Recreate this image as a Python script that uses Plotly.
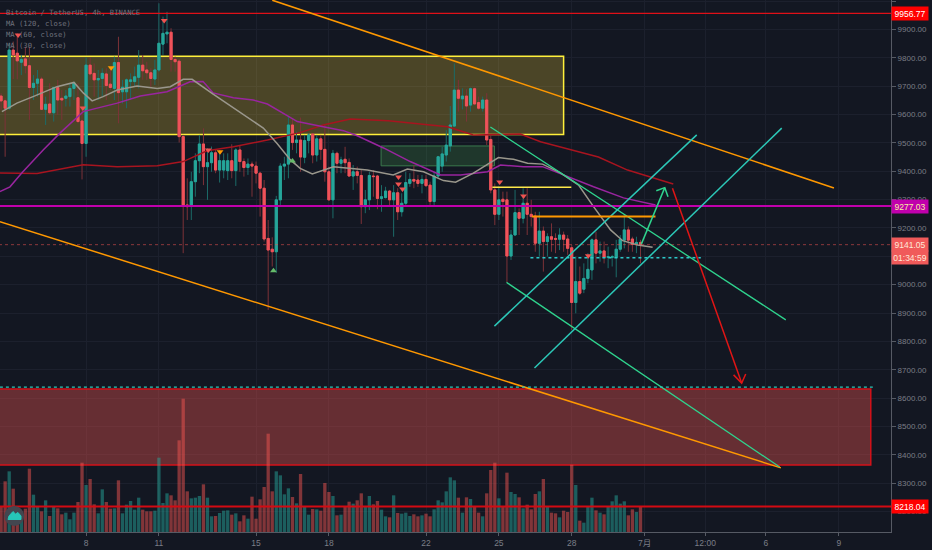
import plotly.graph_objects as go

# 4h candles, bar 21 is the 8th at 00:00
bar_open = [
    9665, 9648, 9622, 9827, 9816, 9784, 9796, 9772, 9695, 9710,
    9725, 9618, 9637, 9606, 9695, 9657, 9657, 9663, 9692, 9659,
    9577, 9498, 9774, 9745, 9722, 9727, 9743, 9707, 9692, 9783,
    9680, 9680, 9716, 9716, 9731, 9774, 9757, 9747, 9725, 9757,
    9848, 9884, 9890, 9794, 9788, 9522, 9281, 9277, 9363, 9437,
    9496, 9416, 9430, 9465, 9404, 9404, 9402, 9437, 9402, 9475,
    9434, 9413, 9425, 9418, 9393, 9340, 9163, 9125, 9116, 9299,
    9418, 9425, 9563, 9501, 9510, 9449, 9508, 9531, 9457, 9514,
    9477, 9398, 9299, 9463, 9428, 9442, 9431, 9383, 9398, 9385,
    9275, 9299, 9383, 9383, 9304, 9307, 9330, 9299, 9324, 9257,
    9287, 9357, 9371, 9369, 9357, 9371, 9351, 9293, 9383, 9418,
    9457, 9489, 9559, 9686, 9655, 9665, 9633, 9691, 9642, 9622,
    9651, 9512, 9334, 9248, 9301, 9299, 9101, 9175, 9254, 9234,
    9287, 9248, 9242, 9146, 9189, 9152, 9169, 9163, 9160, 9175,
    9161, 9130, 8937, 9011, 8984, 9022, 9052, 9158, 9111, 9119,
    9096, 9096, 9096, 9125, 9157, 9193, 9161, 9142, 9149,
]
bar_close = [
    9648, 9622, 9827, 9810, 9789, 9794, 9772, 9695, 9710, 9725,
    9618, 9636, 9606, 9695, 9651, 9651, 9665, 9692, 9712, 9575,
    9498, 9774, 9743, 9722, 9727, 9745, 9702, 9695, 9783, 9677,
    9696, 9722, 9722, 9733, 9774, 9754, 9747, 9727, 9757, 9851,
    9886, 9890, 9794, 9786, 9522, 9281, 9275, 9363, 9437, 9496,
    9416, 9430, 9465, 9404, 9437, 9437, 9437, 9402, 9475, 9434,
    9413, 9425, 9418, 9393, 9340, 9161, 9122, 9116, 9299, 9418,
    9425, 9563, 9501, 9510, 9450, 9508, 9528, 9457, 9514, 9477,
    9398, 9299, 9463, 9428, 9440, 9430, 9383, 9398, 9385, 9275,
    9299, 9385, 9381, 9304, 9310, 9330, 9299, 9324, 9257, 9287,
    9360, 9371, 9365, 9357, 9371, 9349, 9293, 9383, 9451, 9461,
    9492, 9563, 9686, 9657, 9665, 9630, 9691, 9637, 9622, 9651,
    9510, 9334, 9248, 9299, 9293, 9101, 9175, 9254, 9234, 9287,
    9248, 9240, 9146, 9189, 9152, 9169, 9160, 9160, 9175, 9160,
    9128, 8937, 9011, 8970, 9022, 9054, 9158, 9111, 9119, 9096,
    9099, 9099, 9125, 9160, 9193, 9157, 9142, 9149, 9141,
]
bar_high = [
    9675, 9657, 9851, 9857, 9886, 9810, 9839, 9839, 9739, 9757,
    9733, 9663, 9710, 9698, 9722, 9686, 9686, 9710, 9716, 9710,
    9628, 9801, 9801, 9780, 9757, 9763, 9763, 9757, 9804, 9874,
    9722, 9727, 9745, 9769, 9827, 9810, 9786, 9763, 9792, 9992,
    9945, 9962, 9904, 9804, 9796, 9528, 9375, 9398, 9463, 9528,
    9551, 9481, 9487, 9475, 9475, 9463, 9463, 9495, 9481, 9492,
    9445, 9445, 9434, 9434, 9398, 9369, 9228, 9167, 9313, 9428,
    9451, 9592, 9586, 9539, 9589, 9528, 9534, 9534, 9528, 9528,
    9563, 9416, 9475, 9469, 9451, 9486, 9445, 9422, 9416, 9404,
    9334, 9398, 9404, 9387, 9351, 9345, 9334, 9351, 9340, 9322,
    9398, 9393, 9422, 9387, 9387, 9387, 9363, 9398, 9454, 9486,
    9545, 9630, 9780, 9722, 9692, 9689, 9695, 9695, 9663, 9663,
    9675, 9528, 9357, 9346, 9328, 9328, 9193, 9334, 9269, 9340,
    9340, 9299, 9257, 9257, 9205, 9181, 9216, 9181, 9199, 9187,
    9175, 9140, 9099, 9064, 9075, 9111, 9163, 9187, 9152, 9152,
    9134, 9105, 9158, 9175, 9246, 9205, 9169, 9169, 9158,
]
bar_low = [
    9616, 9451, 9616, 9725, 9724, 9739, 9745, 9581, 9651, 9663,
    9616, 9563, 9598, 9575, 9598, 9581, 9628, 9628, 9651, 9569,
    9371, 9451, 9722, 9663, 9651, 9663, 9651, 9686, 9651, 9569,
    9639, 9622, 9651, 9698, 9692, 9722, 9722, 9698, 9704, 9751,
    9810, 9851, 9751, 9751, 9501, 9111, 9228, 9228, 9310, 9393,
    9351, 9299, 9398, 9393, 9360, 9375, 9369, 9375, 9348, 9398,
    9381, 9387, 9310, 9357, 9240, 9152, 8911, 9064, 9042, 9281,
    9369, 9375, 9475, 9463, 9398, 9428, 9463, 9428, 9434, 9440,
    9363, 9296, 9234, 9393, 9393, 9393, 9381, 9334, 9357, 9214,
    9252, 9263, 9310, 9266, 9257, 9304, 9275, 9169, 9228, 9240,
    9281, 9345, 9340, 9345, 9322, 9345, 9281, 9275, 9375, 9398,
    9434, 9469, 9559, 9610, 9618, 9575, 9610, 9633, 9616, 9610,
    9492, 9322, 9210, 9228, 9240, 9008, 9087, 9175, 9175, 9216,
    9175, 9205, 9116, 9099, 9046, 9099, 9116, 9111, 9122, 9116,
    9105, 8840, 8899, 8964, 8970, 9005, 9017, 9075, 9081, 9075,
    9058, 9064, 9026, 9116, 9128, 9116, 9116, 9111, 9075,
]
bar_volume = [
    75, 152, 182, 130, 55, 45, 70, 190, 112, 75,
    62, 95, 48, 75, 71, 53, 58, 38, 58, 90,
    208, 141, 159, 83, 56, 128, 90, 70, 71, 155,
    56, 82, 93, 67, 103, 67, 62, 62, 64, 223,
    87, 116, 110, 95, 275, 400, 122, 101, 103, 108,
    143, 103, 47, 48, 57, 64, 65, 52, 56, 32,
    50, 40, 106, 40, 98, 135, 295, 122, 182, 170,
    113, 131, 105, 86, 174, 75, 52, 69, 68, 64,
    147, 120, 108, 50, 52, 75, 91, 85, 95, 116,
    77, 108, 83, 93, 67, 47, 44, 110, 57, 55,
    58, 48, 53, 47, 50, 55, 47, 68, 95, 89,
    122, 164, 155, 103, 58, 104, 99, 75, 58, 47,
    116, 186, 208, 101, 77, 178, 120, 114, 104, 71,
    82, 68, 114, 122, 159, 75, 58, 56, 44, 64,
    60, 202, 141, 34, 28, 77, 103, 65, 58, 53,
    77, 92, 110, 85, 92, 50, 68, 60, 77,
]

# moving averages (bar, price)
ma30_bar = [0.2, 3.9, 7.9, 13.8, 18, 20.3, 22.5, 25.2, 28.7, 33.6, 38.6, 41.8, 45, 47.2, 52.4,
            57.4, 64.8, 68.2, 71.5, 73.9, 76.9, 82.1, 90.5, 96.9, 100.4, 104.4, 109.3, 112.3,
            116.7, 122.9, 126.6, 130.1, 133.8, 138.2, 142.7, 146.4, 150.6, 153.6, 157.3, 161]
ma30_val = [9610, 9640, 9663, 9698, 9713, 9676, 9648, 9663, 9686, 9700, 9692, 9698, 9724, 9724, 9672,
            9623, 9552, 9498, 9440, 9410, 9390, 9416, 9404, 9387, 9408, 9398, 9367, 9361,
            9393, 9448, 9442, 9428, 9425, 9394, 9351, 9275, 9193, 9155, 9140, 9132]
ma60_bar = [-0.3, 2.2, 5.1, 10.4, 14.6, 20.3, 28.7, 34.4, 41, 46.7, 49.9, 52.4, 57.4, 62.3, 65.8,
            69.7, 73.2, 79.6, 84.6, 88, 94.5, 101.1, 106.1, 108.6, 113.5, 120.2, 123.4, 129.1,
            133.8, 140, 146.4, 153.8, 161.7]
ma60_val = [9328, 9345, 9394, 9475, 9535, 9610, 9640, 9665, 9680, 9715, 9716, 9676, 9659, 9651, 9637,
            9605, 9575, 9557, 9543, 9525, 9482, 9434, 9402, 9387, 9387, 9398, 9422, 9416,
            9416, 9381, 9345, 9306, 9281]
ma120_bar = [-0.3, 8.9, 20.3, 28.7, 38.6, 45, 50.9, 57.4, 65.8, 73.9, 79.6, 86.3, 95.7, 110.3,
             116.7, 128.3, 133.3, 147.6, 154.8, 166.1]
ma120_val = [9394, 9392, 9423, 9416, 9419, 9434, 9472, 9486, 9510, 9536, 9563, 9584, 9578, 9557,
             9528, 9531, 9504, 9450, 9404, 9355]

# hand drawn lines (bar, price)
orange_upper_bar = [67, 205.8]
orange_upper_val = [10003, 9341]
orange_lower_bar = [-0.3, 192.7]
orange_lower_val = [9222, 8354]
green_a_bar = [120.9, 193.9]
green_a_val = [9556, 8876]
green_b_bar = [124.9, 192.4]
green_b_val = [9008, 8357]
cyan_a_bar = [121.9, 171.9]
cyan_a_val = [8854, 9528]
cyan_b_bar = [131.8, 192.9]
cyan_b_val = [8706, 9552]
yellow_short_bar = [121.4, 140.9]
yellow_short_val = [9343, 9343]
orange_short_bar = [131.2, 161.7]
orange_short_val = [9240, 9240]
dots_short_bar = [130.8, 172.9]
dots_short_val = [9095, 9095]
dots_long_bar = [-0.3, 215.4]
dots_long_val = [8639, 8639]
arrow_up_bar = [158.2, 164, None, 161.9, 164, 164.8]
arrow_up_val = [9143, 9342, None, 9331, 9342, 9310]
arrow_down_bar = [165.9, 183, None, 181, 183, 184]
arrow_down_val = [9340, 8653, None, 8682, 8653, 8685]

# signal markers
sell_bar = [40.3, 4.2, 20.2, 51.2, 98.2, 98.2, 99.2, 123.2, 129.1, 145.1]
sell_val = [9931, 9880, 9623, 9475, 9380, 9355, 9337, 9362, 9313, 9102]
warn_bar = [27.2, 54.1]
warn_val = [9765, 9469]
buy_bar = [72, 67.3]
buy_val = [9436, 9049]

# zones (bar, price)
yellow_zone = [-2, 139, 9529, 9805]
green_zone = [93.9, 121.9, 9419, 9489]
red_zone = [-2, 214.9, 8364, 8632]

# levels
level_top = 9956.77
level_magenta = 9277.03
level_last = 9141.05
level_bottom = 8218.04
countdown = "01:34:59"

x_tick_bars = [21, 39, 63, 81, 105, 123, 141, 159, 174, 189, 207]
x_tick_text = ["8", "11", "15", "18", "22", "25", "28", "7月", "12:00", "6", "9"]
legend_rows = ["Bitcoin / TetherUS, 4h, BINANCE", "MA (120, close)", "MA (60, close)", "MA (30, close)"]

BG = "#131722"
GRID = "#1c202d"
UP = "#26a69a"
DOWN = "#f0535a"
FONT = "Liberation Sans, Noto Sans CJK SC, sans-serif"
W, H = 932, 550
ML, MR, MB = 0, 41, 18
PW, PH = W - ML - MR, H - MB
PRICE_RANGE = [8128, 10003.6]
VOL_RANGE = [0, 1596]
bars = list(range(len(bar_open)))
vol_colors = [
    "rgba(38,166,154,0.5)" if c >= o else "rgba(239,83,80,0.5)"
    for o, c in zip(bar_open, bar_close)
]

fig = go.Figure()

# volume sits on the primary axis so the price traces draw over it
fig.add_trace(go.Bar(x=bars, y=bar_volume, marker=dict(color=vol_colors, line_width=0),
                     width=0.82, yaxis="y", hoverinfo="skip"))


def line(xs, ys, color, width=1.5, dash="solid"):
    fig.add_trace(go.Scatter(x=xs, y=ys, mode="lines", yaxis="y2", hoverinfo="skip",
                             line=dict(color=color, width=width, dash=dash)))


line(ma120_bar, ma120_val, "#a8141f", 1.5)
line(ma60_bar, ma60_val, "#99259f", 1.5)
line(ma30_bar, ma30_val, "#9a978c", 1.5)

# wicks first, then bodies with no wick
fig.add_trace(go.Candlestick(
    x=bars, open=bar_open, high=bar_high, low=bar_low, close=bar_close, yaxis="y2",
    increasing=dict(line=dict(color="#1c6b68", width=1), fillcolor="#1c6b68"),
    decreasing=dict(line=dict(color="#7d3238", width=1), fillcolor="#7d3238"),
    whiskerwidth=0, hoverinfo="skip",
))
body_top = [max(o, c) for o, c in zip(bar_open, bar_close)]
body_bot = [min(o, c) for o, c in zip(bar_open, bar_close)]
fig.add_trace(go.Candlestick(
    x=bars, open=bar_open, high=body_top, low=body_bot, close=bar_close, yaxis="y2",
    increasing=dict(line=dict(color=UP, width=1), fillcolor=UP),
    decreasing=dict(line=dict(color=DOWN, width=1), fillcolor=DOWN),
    whiskerwidth=0, hoverinfo="skip",
))

x_span = [-2, 225]
line(x_span, [level_top] * 2, "#e01018", 1.2)
line(x_span, [level_magenta] * 2, "#c000ac", 2)
line(x_span, [level_last] * 2, "rgba(239,83,80,0.55)", 1, "dot")
line(x_span, [level_bottom] * 2, "#d40a12", 2)

line(orange_upper_bar, orange_upper_val, "#ff9800", 1.5)
line(orange_lower_bar, orange_lower_val, "#ff9800", 1.5)
line(green_a_bar, green_a_val, "#2fd48e", 1.3)
line(green_b_bar, green_b_val, "#2fd48e", 1.3)
line(cyan_a_bar, cyan_a_val, "#2cc8b8", 1.5)
line(cyan_b_bar, cyan_b_val, "#2cc8b8", 1.5)
line(yellow_short_bar, yellow_short_val, "#ffe94a", 1.5)
line(orange_short_bar, orange_short_val, "#ff9800", 2)
line(dots_short_bar, dots_short_val, "#2cc8c8", 1.5, "dot")
line(dots_long_bar, dots_long_val, "#2cc8b8", 1.2, "dot")
line(arrow_up_bar, arrow_up_val, "#2fd48e", 1.5)
line(arrow_down_bar, arrow_down_val, "#e01515", 1.5)


def marks(xs, ys, symbol, color):
    fig.add_trace(go.Scatter(x=xs, y=ys, mode="markers", yaxis="y2", hoverinfo="skip",
                             marker=dict(symbol=symbol, size=6, color=color, line_width=0)))


marks(sell_bar, sell_val, "triangle-down", "#ef5350")
marks(warn_bar, warn_val, "triangle-down", "#ff9800")
marks(buy_bar, buy_val, "triangle-up", "#66bb6a")


def to_vol_axis(price):
    # layer="between" only works on the main subplot, so zones go through the volume axis
    return (price - PRICE_RANGE[0]) / (PRICE_RANGE[1] - PRICE_RANGE[0]) * VOL_RANGE[1]


def zone(box, line_color, fill, width=1.5):
    fig.add_shape(type="rect", xref="x", yref="y", x0=box[0], x1=box[1],
                  y0=to_vol_axis(box[2]), y1=to_vol_axis(box[3]),
                  line=dict(color=line_color, width=width), fillcolor=fill, layer="between")


zone(yellow_zone, "#fff03a", "rgba(255,218,59,0.24)")
zone(green_zone, "#3b7a4d", "rgba(76,175,80,0.22)", 1)
zone(red_zone, "#d3121a", "rgba(239,83,80,0.38)")

# logo badge, bottom left
fig.add_shape(type="circle", xref="paper", yref="paper", layer="above",
              x0=4.3 / PW, x1=24.3 / PW, y0=1 - 526 / PH, y1=1 - 506 / PH,
              fillcolor="#43464f", line_width=0)
logo_px = [(8, 519.5), (9, 516), (13, 511.5), (15.5, 514), (18, 512.5), (21, 516), (21, 519.5)]
logo_path = "M " + " L ".join(f"{x / PW:.5f},{1 - y / PH:.5f}" for x, y in logo_px) + " Z"
fig.add_shape(type="path", xref="paper", yref="paper", layer="above", path=logo_path,
              fillcolor="#26c6b8", line=dict(color="#26c6b8", width=1))

# price tags on the axis
tags = [
    (level_top, f"{level_top:.2f}", "#ff0000", "#ffffff"),
    (level_magenta, f"{level_magenta:.2f}", "#c000ac", "#f8f0a0"),
    (level_last, f"{level_last:.2f}", "#f05a5a", "#ffe8d8"),
    (level_bottom, f"{level_bottom:.2f}", "#ff0000", "#ffffff"),
]
for price, text, bg, fg in tags:
    fig.add_annotation(xref="paper", yref="y2", x=1, y=price, xanchor="left", yanchor="middle",
                       text=text, showarrow=False, bgcolor=bg, width=36, height=13, borderpad=0,
                       font=dict(family=FONT, size=8.5, color=fg))
fig.add_annotation(xref="paper", yref="y2", x=1, y=level_last, yshift=-13, xanchor="left",
                   yanchor="middle", text=countdown, showarrow=False, bgcolor="#f05a5a",
                   width=36, height=13, borderpad=0, font=dict(family=FONT, size=8.5, color="#ffe8d8"))

for k, row in enumerate(legend_rows):
    fig.add_annotation(xref="paper", yref="paper", x=4 / PW, y=1 - (12.3 + 11 * k) / PH,
                       xanchor="left", yanchor="middle", text=row, showarrow=False,
                       font=dict(family="DejaVu Sans Mono", size=7.2, color="#6f727c"))

fig.update_layout(
    width=W, height=H, margin=dict(l=ML, r=MR, t=0, b=MB),
    paper_bgcolor=BG, plot_bgcolor=BG, showlegend=False, bargap=0.25,
    boxmode="overlay", boxgap=0.25,
    xaxis=dict(range=[-0.27, 219.9], rangeslider=dict(visible=False), tickmode="array",
               tickvals=x_tick_bars, ticktext=x_tick_text, showgrid=True, gridcolor=GRID,
               gridwidth=1, zeroline=False, showline=True, linecolor="#565a64", linewidth=1,
               ticks="outside", ticklen=3, tickcolor="#565a64",
               tickfont=dict(family=FONT, size=8.5, color="#7b7e87")),
    yaxis=dict(range=VOL_RANGE, visible=False, showgrid=False, zeroline=False),
    yaxis2=dict(range=PRICE_RANGE, overlaying="y", side="right", tick0=8000, dtick=100,
                tickformat=".2f", showgrid=True, gridcolor=GRID, gridwidth=1, zeroline=False,
                showline=True, linecolor="#565a64", linewidth=1, ticks="outside", ticklen=4,
                tickcolor="#565a64", tickfont=dict(family=FONT, size=8, color="#7b7e87")),
)

fig.write_html("out.html", config=dict(displayModeBar=False),
               post_script="document.body.style.margin='0';document.documentElement.style.overflow='hidden';")
